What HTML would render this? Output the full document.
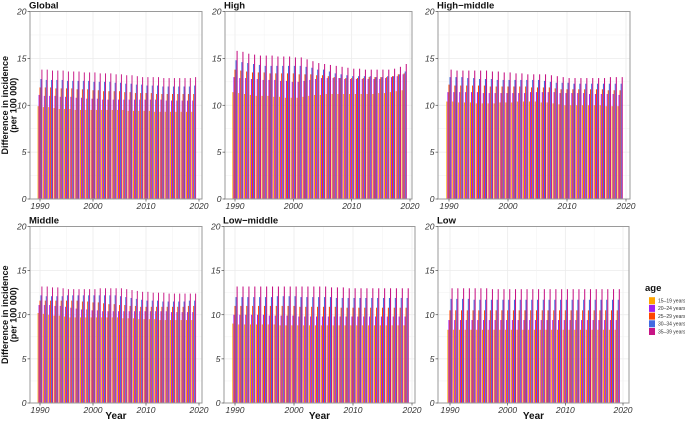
<!DOCTYPE html>
<html><head><meta charset="utf-8"><style>
html,body{margin:0;padding:0;background:#fff;}
svg{display:block;font-family:"Liberation Sans",sans-serif;}
</style></head><body>
<svg id="chart" width="685" height="422" viewBox="0 0 685 422" xmlns="http://www.w3.org/2000/svg"></svg>
<script>
const years = Array.from({length:30},(_,i)=>1990+i);
const ageGroups = ["15–19 years","20–24 years","25–29 years","30–34 years","35–39 years"];
const colors = ["#FFA500","#A020F0","#FF4500","#4169E1","#C71585"];
const panelNames = ["Global","High","High−middle","Middle","Low−middle","Low"];
const yTicks = [0,5,10,15,20];
const xTicks = [1990,2000,2010,2020];

const globalA=[9.9,9.8,9.8,9.7,9.6,9.6,9.6,9.5,9.5,9.5,9.5,9.5,9.5,9.5,9.5,9.5,9.5,9.4,9.4,9.4,9.4,9.4,9.3,9.3,9.3,9.3,9.3,9.3,9.3,9.3];
const globalB=[11.1,11.0,11.0,11.0,10.9,10.9,10.9,10.8,10.8,10.7,10.7,10.7,10.6,10.6,10.6,10.6,10.6,10.6,10.6,10.6,10.6,10.6,10.6,10.6,10.5,10.5,10.5,10.5,10.5,10.5];
const globalC=[11.9,11.9,11.9,11.8,11.8,11.8,11.8,11.7,11.7,11.7,11.6,11.6,11.5,11.5,11.5,11.5,11.4,11.4,11.3,11.3,11.3,11.3,11.2,11.2,11.2,11.2,11.2,11.2,11.2,11.2];
const globalD=[12.8,12.7,12.7,12.7,12.7,12.6,12.6,12.6,12.6,12.6,12.5,12.5,12.5,12.5,12.4,12.4,12.3,12.3,12.2,12.2,12.1,12.1,12.1,12.0,12.0,12.0,12.0,12.0,12.0,12.1];
const globalE=[13.8,13.8,13.7,13.7,13.7,13.6,13.6,13.6,13.5,13.5,13.5,13.4,13.4,13.4,13.3,13.3,13.2,13.2,13.1,13.0,13.0,13.0,13.0,12.9,12.9,12.9,12.9,12.9,12.9,13.0];

const highA=[11.4,11.3,11.2,11.1,11.0,11.0,11.0,10.9,10.9,10.8,10.8,10.8,10.9,11.0,11.1,11.1,11.2,11.2,11.2,11.2,11.2,11.2,11.2,11.2,11.2,11.3,11.3,11.4,11.5,11.6];
const highB=[13.0,12.9,12.9,12.8,12.8,12.7,12.7,12.7,12.6,12.6,12.5,12.5,12.6,12.7,12.8,12.9,12.9,12.9,12.9,12.8,12.8,12.8,12.8,12.8,12.8,12.8,12.9,13.0,13.1,13.3];
const highC=[13.8,13.7,13.6,13.5,13.5,13.5,13.4,13.4,13.4,13.4,13.4,13.3,13.3,13.3,13.2,13.2,13.1,13.0,12.9,12.9,12.9,12.9,12.9,13.0,13.0,13.0,13.0,13.1,13.3,13.4];
const highD=[14.8,14.6,14.5,14.4,14.3,14.2,14.2,14.2,14.2,14.2,14.2,14.2,14.1,14.0,13.8,13.8,13.6,13.4,13.3,13.2,13.1,13.1,13.1,13.1,13.0,13.0,13.1,13.1,13.3,13.6];
const highE=[15.8,15.7,15.5,15.4,15.3,15.3,15.3,15.2,15.2,15.2,15.1,15.1,14.9,14.7,14.5,14.4,14.3,14.2,14.1,14.0,13.9,13.9,13.8,13.8,13.8,13.8,13.8,13.9,14.1,14.4];

const hmA=[10.4,10.4,10.3,10.3,10.3,10.2,10.2,10.2,10.2,10.3,10.3,10.3,10.4,10.4,10.4,10.4,10.3,10.3,10.2,10.1,10.0,10.0,10.0,10.0,10.0,10.0,10.0,9.9,9.9,9.9];
const hmB=[11.4,11.4,11.4,11.4,11.4,11.4,11.3,11.3,11.3,11.3,11.3,11.3,11.3,11.3,11.4,11.4,11.4,11.4,11.4,11.3,11.3,11.3,11.3,11.3,11.2,11.2,11.2,11.2,11.2,11.1];
const hmC=[12.2,12.1,12.1,12.1,12.1,12.1,12.1,12.0,12.0,12.0,12.0,12.0,12.0,12.0,11.9,11.9,11.9,11.9,11.8,11.7,11.7,11.7,11.7,11.7,11.7,11.7,11.7,11.6,11.6,11.6];
const hmD=[13.0,13.0,13.0,12.9,12.9,12.8,12.8,12.8,12.7,12.7,12.7,12.7,12.7,12.7,12.7,12.7,12.6,12.5,12.4,12.4,12.4,12.3,12.3,12.3,12.3,12.3,12.3,12.3,12.3,12.3];
const hmE=[13.8,13.7,13.7,13.7,13.7,13.7,13.7,13.6,13.6,13.5,13.5,13.4,13.4,13.3,13.3,13.3,13.3,13.2,13.1,13.0,12.9,12.9,12.9,12.9,12.9,12.9,12.9,13.0,13.0,13.0];

const midA=[10.2,10.1,10.0,9.9,9.9,9.8,9.7,9.7,9.7,9.7,9.7,9.7,9.7,9.7,9.7,9.7,9.6,9.6,9.6,9.5,9.5,9.5,9.5,9.4,9.4,9.4,9.4,9.4,9.4,9.4];
const midB=[11.1,11.1,11.1,11.0,11.0,10.9,10.8,10.7,10.6,10.6,10.5,10.5,10.4,10.4,10.4,10.4,10.4,10.4,10.4,10.4,10.4,10.4,10.4,10.4,10.4,10.3,10.3,10.3,10.3,10.3];
const midC=[11.6,11.6,11.6,11.6,11.6,11.6,11.6,11.6,11.5,11.5,11.4,11.4,11.3,11.2,11.2,11.1,11.1,11.0,11.0,10.9,10.9,10.9,10.9,10.9,10.9,10.9,10.9,10.9,11.0,11.0];
const midD=[12.2,12.1,12.1,12.1,12.1,12.2,12.2,12.2,12.2,12.2,12.2,12.2,12.2,12.2,12.2,12.1,12.0,11.9,11.8,11.7,11.6,11.6,11.6,11.5,11.5,11.5,11.5,11.5,11.6,11.6];
const midE=[13.2,13.2,13.1,13.1,13.0,12.9,12.9,12.9,12.9,12.9,12.9,13.0,13.0,13.0,13.0,13.0,12.9,12.8,12.7,12.6,12.6,12.5,12.5,12.5,12.4,12.4,12.4,12.4,12.4,12.4];

const lmA=[9.0,8.9,8.9,8.9,8.9,8.9,8.9,8.9,8.8,8.8,8.8,8.8,8.8,8.8,8.8,8.8,8.8,8.8,8.8,8.8,8.8,8.8,8.8,8.8,8.8,8.8,8.8,8.8,8.8,8.8];
const lmB=[10.0,10.0,10.0,10.0,10.0,10.0,9.9,9.9,9.9,9.9,9.9,9.8,9.8,9.8,9.8,9.8,9.8,9.8,9.8,9.8,9.8,9.8,9.8,9.8,9.8,9.8,9.8,9.8,9.8,9.8];
const lmC=[11.0,11.0,11.0,11.0,11.0,11.0,11.0,11.0,11.0,11.0,11.0,10.9,10.9,10.9,10.9,10.9,10.9,10.9,10.8,10.8,10.8,10.8,10.8,10.8,10.8,10.8,10.8,10.8,10.8,10.8];
const lmD=[12.0,12.0,12.0,12.0,12.0,12.0,12.0,12.1,12.1,12.1,12.1,12.0,12.0,12.0,12.0,12.0,12.0,11.9,11.9,11.9,11.9,11.9,11.9,11.9,11.9,11.9,11.9,11.9,11.9,11.9];
const lmE=[13.2,13.2,13.2,13.2,13.2,13.2,13.2,13.2,13.2,13.2,13.2,13.2,13.2,13.2,13.2,13.2,13.1,13.1,13.1,13.0,13.0,13.0,13.0,13.0,13.0,13.0,13.0,13.0,13.0,13.0];

const lowA=[8.3,8.3,8.3,8.3,8.3,8.3,8.3,8.3,8.3,8.3,8.3,8.3,8.3,8.3,8.3,8.3,8.3,8.3,8.3,8.3,8.3,8.3,8.3,8.3,8.3,8.3,8.3,8.3,8.3,8.3];
const lowB=[9.4,9.4,9.4,9.4,9.4,9.4,9.4,9.4,9.4,9.4,9.4,9.4,9.4,9.4,9.4,9.4,9.4,9.4,9.4,9.4,9.4,9.4,9.4,9.4,9.4,9.4,9.4,9.4,9.4,9.4];
const lowC=[10.5,10.5,10.5,10.5,10.5,10.5,10.5,10.5,10.5,10.5,10.5,10.5,10.5,10.5,10.5,10.5,10.5,10.5,10.5,10.5,10.5,10.5,10.5,10.5,10.5,10.5,10.5,10.5,10.5,10.5];
const lowD=[11.8,11.8,11.8,11.8,11.7,11.7,11.7,11.7,11.7,11.7,11.7,11.7,11.7,11.7,11.7,11.7,11.7,11.7,11.7,11.7,11.7,11.7,11.7,11.7,11.7,11.7,11.7,11.7,11.7,11.7];
const lowE=[13.0,13.0,13.0,13.0,13.0,13.0,13.0,12.9,12.9,12.9,12.9,12.9,12.9,12.9,12.9,12.9,12.9,12.9,12.9,12.9,12.9,12.9,12.9,12.9,12.9,12.9,12.9,12.9,12.9,12.9];

const panelSeries=[[globalA,globalB,globalC,globalD,globalE],[highA,highB,highC,highD,highE],[hmA,hmB,hmC,hmD,hmE],[midA,midB,midC,midD,midE],[lmA,lmB,lmC,lmD,lmE],[lowA,lowB,lowC,lowD,lowE]];

const layout=[
 {l:30,r:202,t:11.5,b:199,x0:40,x1:199},
 {l:225,r:412,t:11.5,b:199,x0:235,x1:410},
 {l:438,r:630,t:11.5,b:199,x0:449,x1:626},
 {l:30,r:202,t:226.5,b:403,x0:40,x1:199},
 {l:224,r:415,t:226.5,b:403,x0:235,x1:412},
 {l:438,r:629,t:226.5,b:403,x0:450,x1:623}
];
const NS="http://www.w3.org/2000/svg";
const svg=document.getElementById('chart');
function mk(tag,attrs,parent){const e=document.createElementNS(NS,tag);for(const k in attrs)e.setAttribute(k,attrs[k]);(parent||svg).appendChild(e);return e;}

layout.forEach((L,pi)=>{
  const g=mk('g',{});
  
  
  const xs=y=>L.x0+(y-1990)*(L.x1-L.x0)/30;
  const ys=v=>L.b-(v/20)*(L.b-L.t);
  for(let v=2.5;v<20;v+=5){mk('line',{x1:L.l,x2:L.r,y1:ys(v),y2:ys(v),stroke:'#f2f2f2','stroke-width':0.5},g);}
  yTicks.forEach(v=>{const ln=mk('line',{x1:L.l,x2:L.r,y1:ys(v),y2:ys(v),stroke:'#ebebeb','stroke-width':0.8},g);});
  [1995,2005,2015].forEach(v=>mk('line',{x1:xs(v),x2:xs(v),y1:L.t,y2:L.b,stroke:'#f2f2f2','stroke-width':0.5},g));
  xTicks.forEach(v=>mk('line',{x1:xs(v),x2:xs(v),y1:L.t,y2:L.b,stroke:'#ebebeb','stroke-width':0.8},g));
  const step=(L.x1-L.x0)/30, gw=step*0.9, bw=gw/5;
  panelSeries[pi].forEach((ser,si)=>{
    ser.forEach((v,yi)=>{
      const cx=xs(years[yi]);
      const r=mk('rect',{x:cx-gw/2+si*bw,y:ys(v),width:bw,height:ys(0)-ys(v),fill:colors[si]},g);
      
      
    });
  });
  const bd=mk('rect',{x:L.l,y:L.t,width:L.r-L.l,height:L.b-L.t,fill:'none',stroke:'#9a9a9a','stroke-width':1},g);
  
  
  yTicks.forEach(v=>{
    mk('line',{x1:L.l-2.5,x2:L.l,y1:ys(v),y2:ys(v),stroke:'#333','stroke-width':0.6},g);
    const t=mk('text',{x:L.l-3.5,y:ys(v)+3,'text-anchor':'end','font-size':8.5,'font-style':'italic',fill:'#333'},g);
    t.textContent=v;
    
    
  });
  xTicks.forEach(v=>{
    mk('line',{x1:xs(v),x2:xs(v),y1:L.b,y2:L.b+2.5,stroke:'#333','stroke-width':0.6},g);
    const t=mk('text',{x:xs(v),y:L.b+10,'text-anchor':'middle','font-size':8.5,'font-style':'italic',fill:'#333'},g);
    t.textContent=v;
    
    
  });
  const ti=mk('text',{x:L.l-1,y:L.t-3,'font-size':9.5,'font-weight':'bold',fill:'#111'},g);
  ti.textContent=panelNames[pi];
  
  
  if(pi>=3){
    const xt=mk('text',{x:(L.l+L.r)/2,y:419,'text-anchor':'middle','font-size':10,'font-weight':'bold',fill:'#111'},g);
    xt.textContent='Year';
    
    
  }
  if(pi%3===0){
    const cy=(L.t+L.b)/2;
    const yt=mk('text',{transform:`translate(8,${cy}) rotate(-90)`,'text-anchor':'middle','font-size':9,'font-weight':'bold',fill:'#111'},g);
    
    
    const s1=mk('tspan',{x:0,y:0},yt);s1.textContent='Difference in incidence';
    const s2=mk('tspan',{x:0,y:8.5},yt);s2.textContent='(per 100 000)';
  }
});
const lg=mk('g',{});


const lt=mk('text',{x:645,y:291,'font-size':9.5,'font-weight':'bold',fill:'#111'},lg);
lt.textContent='age';


ageGroups.forEach((a,i)=>{
  const cy=300.7+i*7.7;
  const k=mk('rect',{x:649,y:cy-3.5,width:6,height:7,fill:colors[i]},lg);
  
  
  const t=mk('text',{x:658,y:cy+1.8,'font-size':5,fill:'#333'},lg);
  t.textContent=a;
  
  
});
</script>
</body></html>
